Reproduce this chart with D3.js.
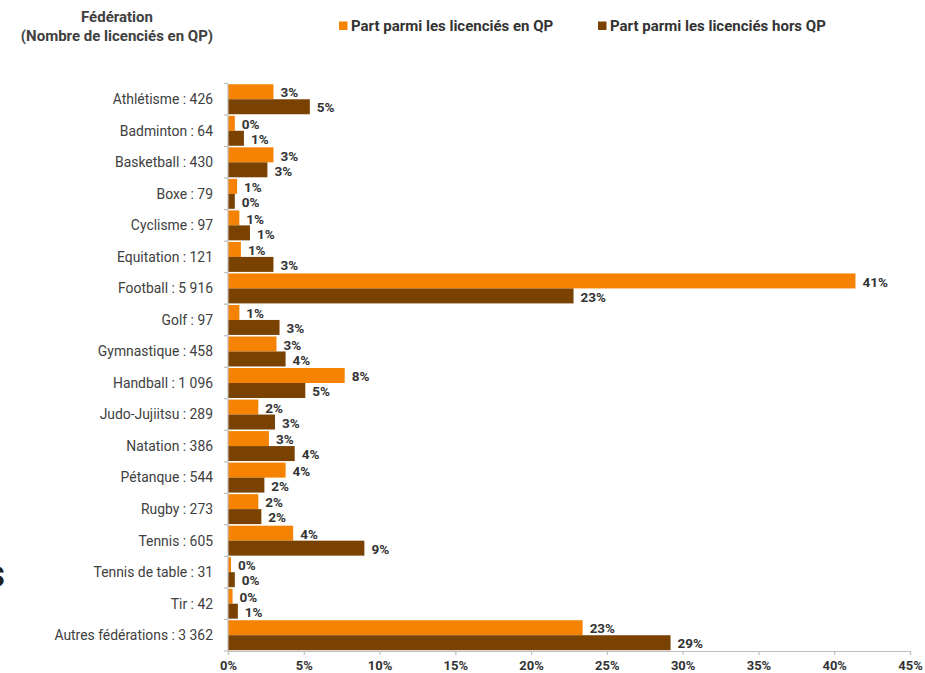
<!DOCTYPE html>
<html>
<head>
<meta charset="utf-8">
<script src="https://cdn.jsdelivr.net/npm/d3@7"></script>
<style>
  body { margin: 0; background: #fff; }
  svg { font-family: Roboto, "Open Sans", sans-serif; }
</style>
</head>
<body>
<svg width="925" height="673"></svg>
<script>
// federations (with number of licensees in QP)
var federations = ["Athlétisme : 426", "Badminton : 64", "Basketball : 430", "Boxe : 79",
    "Cyclisme : 97", "Equitation : 121", "Football : 5 916", "Golf : 97", "Gymnastique : 458",
    "Handball : 1 096", "Judo-Jujiitsu : 289", "Natation : 386", "Pétanque : 544", "Rugby : 273",
    "Tennis : 605", "Tennis de table : 31", "Tir : 42", "Autres fédérations : 3 362"];

// share among licensees in QP (%)
var partQP = [3.0, 0.45, 3.0, 0.6, 0.75, 0.85, 41.4, 0.75, 3.2, 7.7, 2.0, 2.7, 3.8, 2.0, 4.3, 0.2, 0.3, 23.4];
// share among licensees outside QP (%)
var partHorsQP = [5.4, 1.05, 2.6, 0.45, 1.45, 3.0, 22.8, 3.4, 3.8, 5.1, 3.1, 4.4, 2.4, 2.2, 9.0, 0.45, 0.65, 29.2];

var seriesNames = ["Part parmi les licenciés en QP", "Part parmi les licenciés hors QP"];
var seriesColors = ["#f58200", "#7a4200"];
var xTicks = [0, 5, 10, 15, 20, 25, 30, 35, 40, 45];

var svg = d3.select("svg");
var margin = {top: 83.5, left: 228, right: 15, bottom: 22};
var width = 910 - margin.left,
    height = 651 - margin.top;

var g = svg.append("g").attr("transform", "translate(" + margin.left + "," + margin.top + ")");

var x = d3.scaleLinear().domain([0, 45]).range([0, width]);
var y = d3.scaleBand().domain(federations).range([0, height]).paddingInner(0.05).paddingOuter(0.025);
var y1 = d3.scaleBand().domain([0, 1]).range([0, y.bandwidth()]);

var data = federations.map(function(f, i) {
    return {name: f, values: [partQP[i], partHorsQP[i]]};
});

// bars
var groups = g.selectAll(".grp").data(data).enter().append("g")
    .attr("transform", function(d) { return "translate(0," + y(d.name) + ")"; });

groups.selectAll("rect").data(function(d) { return d.values; }).enter().append("rect")
    .attr("x", 0)
    .attr("y", function(d, i) { return y1(i); })
    .attr("width", function(d) { return x(d); })
    .attr("height", y1.bandwidth())
    .attr("fill", function(d, i) { return seriesColors[i]; });

groups.selectAll("text").data(function(d) { return d.values; }).enter().append("text")
    .attr("x", function(d) { return x(d) + 7; })
    .attr("y", function(d, i) { return y1(i) + y1.bandwidth() / 2 + 1; })
    .attr("dy", "0.35em")
    .attr("font-size", 13.5)
    .attr("font-weight", "bold")
    .attr("fill", "#333")
    .text(function(d) { return Math.round(d) + "%"; });

// y axis
var yAxisG = g.append("g");
yAxisG.append("line").attr("x1", 0).attr("x2", 0).attr("y1", 0).attr("y2", height)
    .attr("stroke", "#bfbfbf").attr("stroke-width", 1.2);
var yEdges = federations.map(function(f) { return y(f) - y.step() * y.paddingInner() / 2; });
yEdges.push(height);
yAxisG.selectAll(".yt").data(yEdges).enter().append("line")
    .attr("x1", -4).attr("x2", 0)
    .attr("y1", function(d) { return d; }).attr("y2", function(d) { return d; })
    .attr("stroke", "#bfbfbf").attr("stroke-width", 1.2);
yAxisG.selectAll(".yl").data(federations).enter().append("text")
    .attr("x", -15)
    .attr("y", function(d) { return y(d) + y.bandwidth() / 2; })
    .attr("dy", "0.35em")
    .attr("text-anchor", "end")
    .attr("font-size", 13.9)
    .attr("fill", "#404040")
    .text(function(d) { return d; });

// x axis
var xAxis = d3.axisBottom(x).tickValues(xTicks).tickSize(4).tickPadding(6)
    .tickFormat(function(d) { return d + "%"; });
var xAxisG = g.append("g").attr("transform", "translate(0," + height + ")").call(xAxis);
xAxisG.select(".domain").attr("stroke", "#bfbfbf").attr("stroke-width", 1.2);
xAxisG.selectAll(".tick line").attr("stroke", "#bfbfbf").attr("stroke-width", 1.2);
xAxisG.selectAll(".tick text")
    .attr("font-family", "Roboto, sans-serif")
    .attr("font-size", 13)
    .attr("font-weight", "bold")
    .attr("fill", "#333");

// header
var header = svg.append("text").attr("x", 117).attr("text-anchor", "middle")
    .attr("font-size", 15).attr("font-weight", "bold").attr("fill", "#404040");
header.append("tspan").attr("x", 117).attr("y", 22).text("Fédération");
header.append("tspan").attr("x", 117).attr("y", 41).text("(Nombre de licenciés en QP)");

// legend
var legendX = [339, 598];
var legend = svg.selectAll(".leg").data(seriesNames).enter().append("g")
    .attr("transform", function(d, i) { return "translate(" + legendX[i] + ",21.5)"; });
legend.append("rect").attr("width", 8.5).attr("height", 8.5)
    .attr("fill", function(d, i) { return seriesColors[i]; });
legend.append("text").attr("x", 12).attr("y", 4.5).attr("dy", "0.35em")
    .attr("font-size", 15).attr("font-weight", "bold").attr("fill", "#333")
    .text(function(d) { return d; });

// clipped letter from the source page at the left edge
svg.append("text").attr("x", -15).attr("y", 587)
    .attr("font-size", 39).attr("font-weight", "bold").attr("fill", "#222")
    .text("s");
</script>
</body>
</html>
